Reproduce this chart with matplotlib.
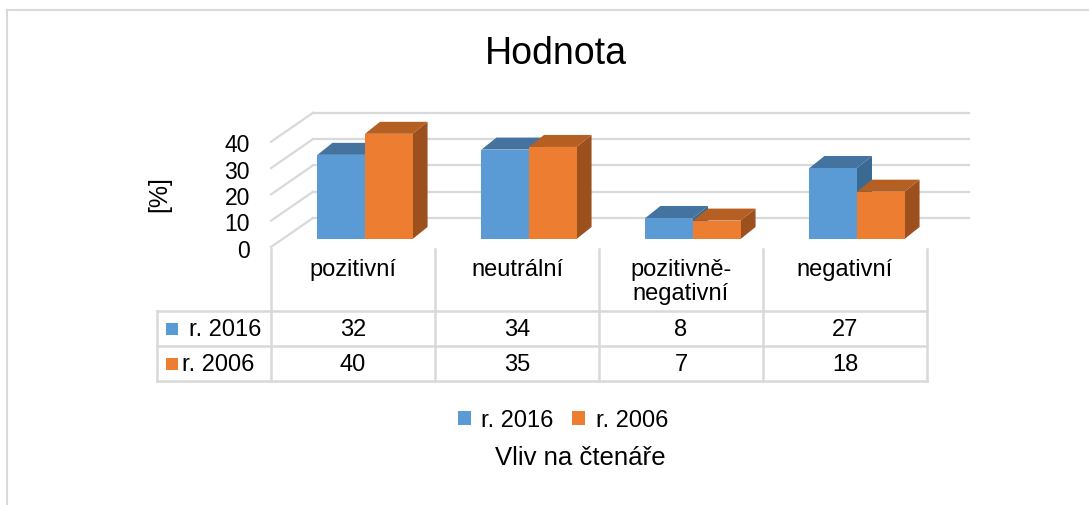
import matplotlib.pyplot as plt
from matplotlib.patches import Polygon, Rectangle, Patch
from matplotlib.transforms import blended_transform_factory

plt.rcParams['font.family'] = ['Liberation Sans', 'DejaVu Sans']

# data
categories = ['pozitivní', 'neutrální', 'pozitivně-\nnegativní', 'negativní']
series_names = ['r. 2016', 'r. 2006']
val_2016 = [32, 34, 8, 27]
val_2006 = [40, 35, 7, 18]
y_ticks = [0, 10, 20, 30, 40]

# colours (front, top, side)
blue = ('#5B9BD5', '#44739F', '#3A6991')
orange = ('#ED7D31', '#B65F23', '#9B501E')
grid_c = '#D9D9D9'

W, H = 1089, 506
fig = plt.figure(figsize=(W / 100, H / 100), dpi=100)

# overlay axes in pixel coordinates (for frame, titles, table lines)
axp = fig.add_axes([0, 0, 1, 1])
axp.set_xlim(0, W)
axp.set_ylim(H, 0)
axp.axis('off')

# chart axes: one category = 164 px, one value unit = 2.63 px
px_cat, px_val = 164, 2.63
x0_px, floor_px = 271, 248
xlim = (-0.5, 3.8)
ylim = (0, 60)
ax = fig.add_axes([x0_px / W,
                   (H - floor_px) / H,
                   (xlim[1] - xlim[0]) * px_cat / W,
                   (ylim[1] - ylim[0]) * px_val / H])
ax.set_xlim(*xlim)
ax.set_ylim(*ylim)
ax.axis('off')

# pseudo 3D depth (data units)
wall_dx, wall_dy = 42 / px_cat, 29 / px_val
front_dx, front_dy = 12 / px_cat, 8 / px_val
bar_dx, bar_dy = 15 / px_cat, 12 / px_val
bar_w = 0.29

# walls: back gridlines + left-wall diagonals
for v in y_ticks:
    ax.plot([-0.5 + wall_dx, 3.5 + wall_dx], [v + wall_dy, v + wall_dy],
            color=grid_c, lw=1.6, zorder=1, clip_on=False)
    ax.plot([-0.5, -0.5 + wall_dx], [v, v + wall_dy],
            color=grid_c, lw=1.6, zorder=1, clip_on=False)
    ax.text(-0.5 - 21 / px_cat, v - 1.2, str(v), ha='right', va='center',
            fontsize=16.5, color='#000000')

z = 3
for i in range(len(categories)):
    for j, (vals, col) in enumerate([(val_2016, blue), (val_2006, orange)]):
        h = vals[i]
        xl = i + front_dx - bar_w + j * bar_w
        xr = xl + bar_w
        b = front_dy
        side = Polygon([(xr, b), (xr + bar_dx, b + bar_dy),
                        (xr + bar_dx, b + h + bar_dy), (xr, b + h)],
                       closed=True, fc=col[2], ec='none', zorder=z)
        top = Polygon([(xl, b + h), (xl + bar_dx, b + h + bar_dy),
                       (xr + bar_dx, b + h + bar_dy), (xr, b + h)],
                      closed=True, fc=col[1], ec='none', zorder=z + 1)
        ax.add_patch(side)
        ax.add_patch(top)
        ax.bar(xl, h, bottom=b, width=bar_w, align='edge', color=col[0],
               lw=0, zorder=z + 2)
        z += 3

ax.text(-0.5 - 0.68, 22 - 1.5, '[%]', rotation=90, ha='center', va='center',
        fontsize=18)

# data table below the chart
tr = blended_transform_factory(ax.transData, axp.transData)
left_x = -0.5 - (271 - 157) / px_cat
row_y = [312, 347, 382]
for k in range(len(categories) + 1):
    axp.plot([k - 0.5, k - 0.5], [250, row_y[-1]], color=grid_c, lw=1.8,
             transform=tr, clip_on=False)
for yy in row_y:
    axp.plot([left_x, 3.5], [yy, yy], color=grid_c, lw=1.8, transform=tr,
             clip_on=False)
axp.plot([left_x, left_x], [row_y[0], row_y[-1]], color=grid_c, lw=1.8,
         transform=tr, clip_on=False)

for i, cat in enumerate(categories):
    axp.text(i, 259, cat, ha='center', va='top', fontsize=17,
             linespacing=1.1, transform=tr)
    axp.text(i, 330, str(val_2016[i]), ha='center', va='center',
             fontsize=17, transform=tr)
    axp.text(i, 365, str(val_2006[i]), ha='center', va='center',
             fontsize=17, transform=tr)

for yc, name, col, tx in [(330, series_names[0], blue[0], 189),
                          (365, series_names[1], orange[0], 182)]:
    axp.add_patch(Rectangle((166, yc - 6), 12, 12, fc=col, ec='none'))
    axp.text(tx, yc, name, ha='left', va='center', fontsize=17)

# legend, axis title, chart title
handles = [Patch(fc=blue[0], ec='none'), Patch(fc=orange[0], ec='none')]
axp.legend(handles, series_names, loc='center',
           bbox_to_anchor=(563 / W, 1 - 421 / H), ncol=2, frameon=False,
           fontsize=17, handlelength=0.55, handleheight=0.55,
           handletextpad=0.45, columnspacing=0.8, borderpad=0)
axp.text(580, 458, 'Vliv na čtenáře', ha='center', va='center', fontsize=18.5)
axp.text(556, 54, 'Hodnota', ha='center', va='center', fontsize=27)

# outer frame
axp.plot([7, W], [11, 11], color=grid_c, lw=1.5)
axp.plot([7, 7], [11, H], color=grid_c, lw=1.5)

fig.savefig('out.png', dpi=100)
